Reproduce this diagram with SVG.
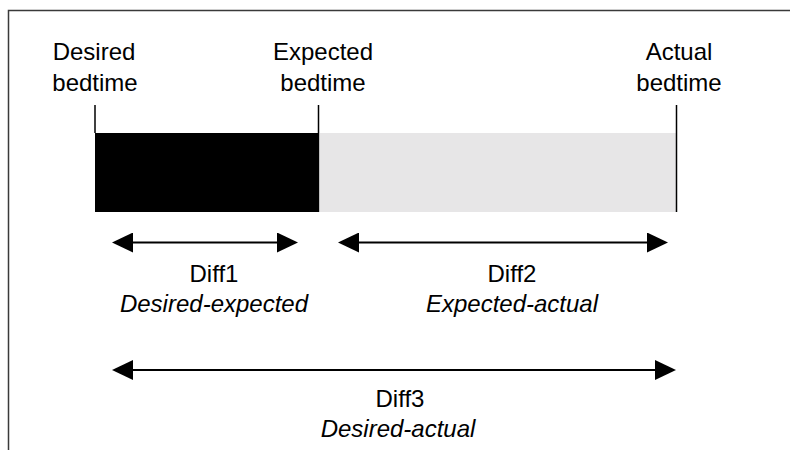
<svg xmlns="http://www.w3.org/2000/svg" width="790" height="450" viewBox="0 0 790 450">
<style>
text{font-family:"Liberation Sans",Arial,sans-serif;font-size:24px;fill:#000;text-anchor:middle}
.it{font-style:italic}
.frame{stroke:#3a3a3a;stroke-width:1.5;fill:none}
.tick{stroke:#000;stroke-width:1.5}
.conn{stroke:#000;stroke-width:2;fill:none;marker-start:url(#ah);marker-end:url(#ah)}
</style>
<defs>
<marker id="ah" viewBox="0 0 21 20" refX="11" refY="10" markerWidth="21" markerHeight="20" markerUnits="userSpaceOnUse" orient="auto-start-reverse">
<path d="M0,0 L21,10 L0,20 z" fill="#000"/>
</marker>
</defs>
<rect width="790" height="450" fill="#fff"/>
<path class="frame" d="M8.5,450 V10.5 H790"/>
<g id="bar-desired-expected"><rect x="95" y="133" width="223" height="79" fill="#000"/></g>
<g id="bar-expected-actual"><rect x="320" y="133" width="356" height="79" fill="#e7e6e7"/></g>
<g id="desired">
<line class="tick" x1="95" y1="105" x2="95" y2="133"/>
<text x="94" y="60">Desired</text>
<text x="95" y="91">bedtime</text>
</g>
<g id="expected">
<line class="tick" x1="318.5" y1="105" x2="318.5" y2="212"/>
<text x="323" y="60">Expected</text>
<text x="323" y="91">bedtime</text>
</g>
<g id="actual">
<line class="tick" x1="676.5" y1="105" x2="676.5" y2="212"/>
<text x="679" y="60">Actual</text>
<text x="679" y="91">bedtime</text>
</g>
<g id="connectors">
<line class="conn" x1="122" y1="242.5" x2="288" y2="242.5"/>
<line class="conn" x1="348" y1="242.5" x2="658" y2="242.5"/>
<line class="conn" x1="122" y1="370" x2="666" y2="370"/>
</g>
<g id="diff1">
<text x="214" y="282">Diff1</text>
<text class="it" x="214" y="312">Desired-expected</text>
</g>
<g id="diff2">
<text x="512" y="282">Diff2</text>
<text class="it" x="512" y="312">Expected-actual</text>
</g>
<g id="diff3">
<text x="400" y="407">Diff3</text>
<text class="it" x="398" y="437">Desired-actual</text>
</g>
</svg>
